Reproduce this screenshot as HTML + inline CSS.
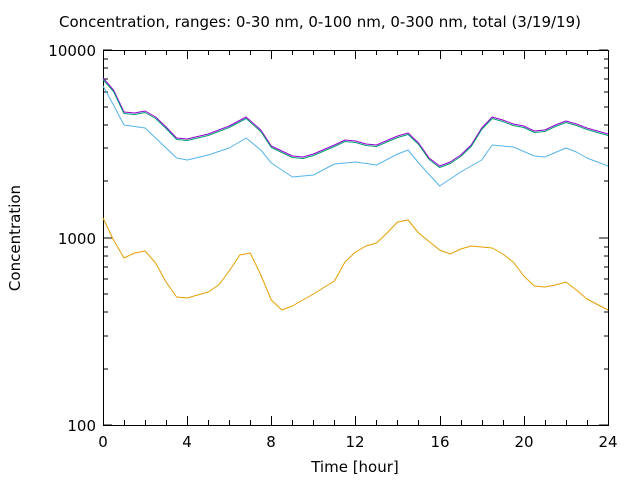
<!DOCTYPE html>
<html><head><style>body{margin:0;background:#fff}svg{display:block}text{font-family:"DejaVu Sans","Liberation Sans",sans-serif;font-size:15px;fill:#000}</style></head>
<body>
<svg width="640" height="480" viewBox="0 0 640 480">
<rect width="640" height="480" fill="#fff"/>
<text x="320" y="27" text-anchor="middle" font-size="14">Concentration, ranges: 0-30 nm, 0-100 nm, 0-300 nm, total (3/19/19)</text>
<g stroke="#000" stroke-width="1" fill="none">
<rect x="103.5" y="50.5" width="505" height="375"/>
<path d="M103 238h9M103 425h9M103 50h9M599 238h9M599 425h9M599 50h9
M103 369h5M103 336h5M103 312h5M103 294h5M103 279h5M103 267h5M103 256h5M103 247h5
M103 181h5M103 148h5M103 125h5M103 107h5M103 92h5M103 79h5M103 68h5M103 59h5
M604 369h4M604 336h4M604 312h4M604 294h4M604 279h4M604 267h4M604 256h4M604 247h4
M604 181h4M604 148h4M604 125h4M604 107h4M604 92h4M604 79h4M604 68h4M604 59h4"/>
<path d="M187.5 425v-9M187.5 50v9M271.5 425v-9M271.5 50v9M355.5 425v-9M355.5 50v9M440.5 425v-9M440.5 50v9M524.5 425v-9M524.5 50v9
M124.5 425v-5M124.5 50v5M145.5 425v-5M145.5 50v5M166.5 425v-5M166.5 50v5
M208.5 425v-5M208.5 50v5M229.5 425v-5M229.5 50v5M250.5 425v-5M250.5 50v5
M292.5 425v-5M292.5 50v5M313.5 425v-5M313.5 50v5M334.5 425v-5M334.5 50v5
M376.5 425v-5M376.5 50v5M397.5 425v-5M397.5 50v5M418.5 425v-5M418.5 50v5
M461.5 425v-5M461.5 50v5M482.5 425v-5M482.5 50v5M503.5 425v-5M503.5 50v5
M545.5 425v-5M545.5 50v5M566.5 425v-5M566.5 50v5M587.5 425v-5M587.5 50v5"/>
</g>
<g font-size="15">
<text x="96" y="56" text-anchor="end">10000</text>
<text x="96" y="244" text-anchor="end">1000</text>
<text x="96" y="431" text-anchor="end">100</text>
<text x="103" y="447" text-anchor="middle">0</text>
<text x="187" y="447" text-anchor="middle">4</text>
<text x="271" y="447" text-anchor="middle">8</text>
<text x="355" y="447" text-anchor="middle">12</text>
<text x="440" y="447" text-anchor="middle">16</text>
<text x="524" y="447" text-anchor="middle">20</text>
<text x="608" y="447" text-anchor="middle">24</text>
<text x="355" y="472" text-anchor="middle">Time [hour]</text>
<text transform="translate(20,238) rotate(-90)" text-anchor="middle">Concentration</text>
</g>
<g fill="none" stroke-width="1" stroke-linejoin="round">
<polyline stroke="#9400d3" points="103,78 113.5,90 124,112 134.6,113 145.1,111 155.6,117 166.1,127 176.6,138 187.2,139 208.2,134 229.2,126 246.1,117 260.8,130 271.3,146 292.4,156 302.9,157 313.4,154 334.4,145 345,140 355.5,141 366,144 376.5,145 397.6,136 408.1,133 418.6,143 429.1,158 439.6,166 450.2,162 460.7,155 471.2,145 481.7,128 492.2,117 502.8,120 513.3,124 523.8,126 534.3,131 544.8,130 555.4,125 565.9,121 576.4,124 586.9,128 608,134"/>
<polyline stroke="#009e73" points="103,79.5 113.5,91.5 124,113.5 134.6,114.5 145.1,112.5 155.6,118.5 166.1,128.5 176.6,139.5 187.2,140.5 208.2,135.5 229.2,127.5 246.1,118.5 260.8,131.5 271.3,147.5 292.4,157.5 302.9,158.5 313.4,155.5 334.4,146.5 345,141.5 355.5,142.5 366,145.5 376.5,146.5 397.6,137.5 408.1,134.5 418.6,144.5 429.1,159.5 439.6,167.5 450.2,163.5 460.7,156.5 471.2,146.5 481.7,129.5 492.2,118.5 502.8,121.5 513.3,125.5 523.8,127.5 534.3,132.5 544.8,131.5 555.4,126.5 565.9,122.5 576.4,125.5 586.9,129.5 608,135.5"/>
<polyline stroke="#56b4e9" points="103,86 113.5,105 124,125 145.1,128 166.1,148 176.6,158 187.2,160 208.2,155 229.2,148 246.1,138 260.8,150 271.3,163 292.4,177 313.4,175 334.4,164 355.5,162 376.5,165 397.6,154 408.1,150 418.6,163 439.6,186 460.7,172 481.7,160 492.2,145 513.3,147 534.3,156 544.8,157 565.9,148 576.4,152 586.9,158 608,166"/>
<polyline stroke="#e69f00" points="103,218 113.5,240 124,258 134.6,253 145.1,251 155.6,263 166.1,282 176.6,297 187.2,298 208.2,292 218.7,285 229.2,271 239.8,255 250.3,253 260.8,275 271.3,300 281.8,310 292.4,306 302.9,300 313.4,294 334.4,281 345,262 355.5,252 366,246 376.5,243 387,233 397.6,222 408.1,220 418.6,233 439.6,250 450.2,254 460.7,249 471.2,246 481.7,247 492.2,248 502.8,254 513.3,262 523.8,276 534.3,286 544.8,287 555.4,285 565.9,282 576.4,290 586.9,299 608,310"/>
</g>
</svg>
</body></html>
